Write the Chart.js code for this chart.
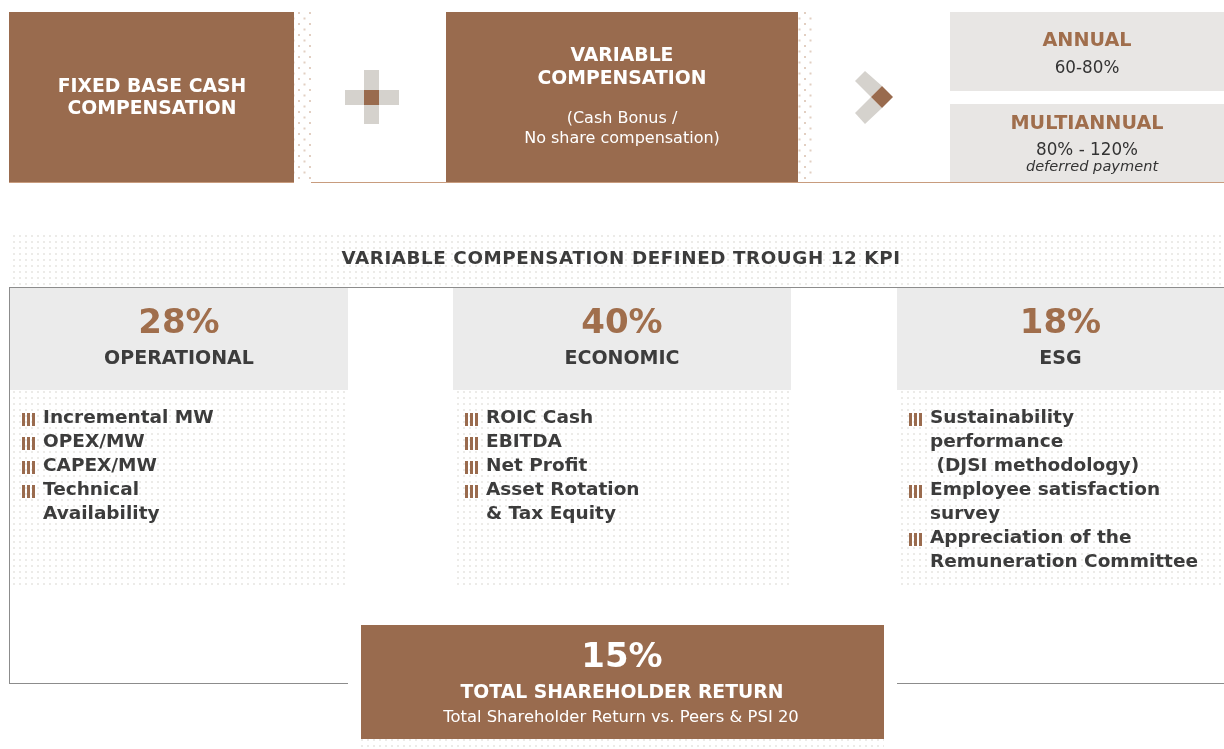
<!DOCTYPE html>
<html>
<head>
<meta charset="utf-8">
<script src="https://cdn.jsdelivr.net/npm/chart.js@4/dist/chart.umd.min.js"></script>
<style>
  html, body { margin: 0; padding: 0; background: #fff; }
  body { width: 1224px; height: 749px; position: relative; overflow: hidden; font-family: "DejaVu Sans", Verdana, sans-serif; }
  #board { position: absolute; left: 0; top: 0; }
  #labels { position: absolute; left: 0; top: 0; width: 1224px; height: 749px; }
  .t { position: absolute; text-align: center; white-space: nowrap; }
  .w { color: #fff; }
  .b { font-weight: bold; }
  .list { position: absolute; font-weight: bold; font-size: 18.5px; line-height: 24px; color: #3c3c3c; white-space: nowrap; }
  .list .row { position: relative; padding-left: 21px; }
  .list .bul { position: absolute; left: 0; top: 8px; width: 13px; height: 13px;
    background: repeating-linear-gradient(90deg, #9a6b4e 0 2.6px, transparent 2.6px 5.2px); }
</style>
</head>
<body>
<canvas id="board" width="1224" height="749"></canvas>
<div id="labels"></div>
<script>
// ---- data ----
const compParts = ['FIXED BASE CASH COMPENSATION', 'VARIABLE COMPENSATION'];
const variableNote = ['(Cash Bonus /', 'No share compensation)'];
const payoutTypes = ['ANNUAL', 'MULTIANNUAL'];
const payoutRanges = ['60-80%', '80% - 120%'];
const payoutNotes = ['', 'deferred payment'];
const kpiTitle = 'VARIABLE COMPENSATION DEFINED TROUGH 12 KPI';
const kpiGroups = ['OPERATIONAL', 'ECONOMIC', 'ESG'];
const kpiWeights = [28, 40, 18];
const kpiItems = [
  [['Incremental MW'], ['OPEX/MW'], ['CAPEX/MW'], ['Technical', 'Availability']],
  [['ROIC Cash'], ['EBITDA'], ['Net Profit'], ['Asset Rotation', '& Tax Equity']],
  [['Sustainability', 'performance', '\u00a0(DJSI methodology)'], ['Employee satisfaction', 'survey'], ['Appreciation of the', 'Remuneration Committee']]
];
const tsrWeight = 15;
const tsrLabel = 'TOTAL SHAREHOLDER RETURN';
const tsrNote = 'Total Shareholder Return vs. Peers & PSI 20';

// ---- colours / layout (board units = pixels) ----
const BROWN = '#996b4e';
const colX = [[10, 348], [453, 791], [897, 1224]];

function dotPattern(ctx, color, step, stagger) {
  const c = document.createElement('canvas');
  c.width = step; c.height = step;
  const p = c.getContext('2d');
  p.fillStyle = color;
  p.fillRect(1, 1, 2, 2);
  if (stagger) p.fillRect(1 + step / 2, 1 + step / 2, 2, 2);
  return ctx.createPattern(c, 'repeat');
}

const boardPlugin = {
  id: 'board',
  beforeDraw(chart) {
    const ctx = chart.ctx, X = chart.scales.x, Y = chart.scales.y;
    const rect = (x0, y0, x1, y1, fill) => {
      const px = X.getPixelForValue(x0), py = Y.getPixelForValue(y0);
      ctx.fillStyle = fill;
      ctx.fillRect(px, py, X.getPixelForValue(x1) - px, Y.getPixelForValue(y1) - py);
    };
    const poly = (pts, fill) => {
      ctx.beginPath();
      pts.forEach((p, i) => {
        const px = X.getPixelForValue(p[0]), py = Y.getPixelForValue(p[1]);
        i ? ctx.lineTo(px, py) : ctx.moveTo(px, py);
      });
      ctx.closePath();
      ctx.fillStyle = fill;
      ctx.fill();
    };
    const tan = dotPattern(ctx, '#e2cfc2', 11, true);
    const grey = dotPattern(ctx, '#ecebe8', 6, false);
    ctx.save();
    // top row
    rect(9, 12, 294, 182, BROWN);
    rect(294, 12, 311, 182, tan);
    rect(446, 12, 798, 182, BROWN);
    rect(798, 12, 812, 182, tan);
    rect(950, 12, 1224, 91, '#e8e6e4');
    rect(950, 104, 1224, 182, '#e8e6e4');
    rect(311, 182, 1224, 183, '#c89c7e');
    rect(9, 182, 294, 183, '#c89c7e');
    // plus sign
    rect(364, 70, 379, 124, '#d5d2cd');
    rect(345, 90, 399, 105, '#d5d2cd');
    rect(364, 90, 379, 105, BROWN);
    // chevron
    poly([[865, 71], [882, 86], [871, 97], [855, 81]], '#d5d2cd');
    poly([[855, 113], [871, 97], [882, 108], [865, 124]], '#d5d2cd');
    poly([[882, 86], [893, 97], [882, 108], [871, 97]], BROWN);
    // KPI band and frame
    rect(9, 233, 1224, 287, grey);
    rect(9, 287, 1224, 288, '#8c8c8c');
    rect(9, 287, 10, 684, '#8c8c8c');
    rect(9, 683, 348, 684, '#8c8c8c');
    rect(897, 683, 1224, 684, '#8c8c8c');
    colX.forEach(c => {
      rect(c[0], 288, c[1], 390, '#ebebeb');
      rect(c[0], 390, c[1], 587, grey);
    });
    // TSR box
    rect(361, 625, 884, 739, BROWN);
    rect(361, 739, 884, 749, grey);
    ctx.restore();
  }
};

new Chart(document.getElementById('board'), {
  type: 'scatter',
  data: { datasets: [] },
  options: {
    responsive: false,
    animation: false,
    events: [],
    layout: { padding: 0 },
    plugins: { legend: { display: false }, tooltip: { enabled: false } },
    scales: {
      x: { type: 'linear', min: 0, max: 1224, display: false },
      y: { type: 'linear', min: 0, max: 749, reverse: true, display: false }
    }
  },
  plugins: [boardPlugin]
});

// ---- text layer ----
const L = document.getElementById('labels');
function text(str, cx, cy, size, cls, color, extra) {
  const d = document.createElement('div');
  d.className = 't ' + (cls || '');
  d.textContent = str;
  d.style.left = (cx - 300) + 'px';
  d.style.width = '600px';
  d.style.fontSize = size + 'px';
  d.style.lineHeight = '30px';
  d.style.top = (cy - 15) + 'px';
  if (color) d.style.color = color;
  if (extra) Object.assign(d.style, extra);
  L.appendChild(d);
}

const fixedLines = ['FIXED BASE CASH', 'COMPENSATION'];
text(fixedLines[0], 152, 86, 18.8, 'b w');
text(fixedLines[1], 152, 108, 18.8, 'b w');
const varLines = compParts[1].split(' ');
text(varLines[0], 622, 55, 18.8, 'b w');
text(varLines[1], 622, 78, 18.8, 'b w');
text(variableNote[0], 622, 118, 16, 'w');
text(variableNote[1], 622, 138, 16, 'w');

text(payoutTypes[0], 1087, 40, 19.2, 'b', '#a06e4c');
text(payoutRanges[0], 1087, 67, 16.8, '', '#333');
text(payoutTypes[1], 1087, 123, 19.2, 'b', '#a06e4c');
text(payoutRanges[1], 1087, 149, 16.8, '', '#333');
text(payoutNotes[1], 1092, 166, 14.6, '', '#333', { fontStyle: 'italic' });

text(kpiTitle, 621, 258, 18.3, 'b', '#3c3c3c', { letterSpacing: '0.6px' });

kpiGroups.forEach((g, i) => {
  const cx = (colX[i][0] + colX[i][1]) / 2;
  text(kpiWeights[i] + '%', cx, 321, 34, 'b', '#a06e4c');
  text(g, cx, 357, 19, 'b', '#3c3c3c');
  const list = document.createElement('div');
  list.className = 'list';
  list.style.left = (colX[i][0] + 12) + 'px';
  list.style.top = '405px';
  kpiItems[i].forEach(item => {
    item.forEach((line, j) => {
      const r = document.createElement('div');
      r.className = 'row';
      if (j === 0) {
        const bl = document.createElement('span');
        bl.className = 'bul';
        r.appendChild(bl);
      }
      r.appendChild(document.createTextNode(line));
      list.appendChild(r);
    });
  });
  L.appendChild(list);
});

text(tsrWeight + '%', 622, 655, 34, 'b w');
text(tsrLabel, 622, 692, 18.8, 'b w');
text(tsrNote, 621, 717, 16.4, 'w');
</script>
</body>
</html>
